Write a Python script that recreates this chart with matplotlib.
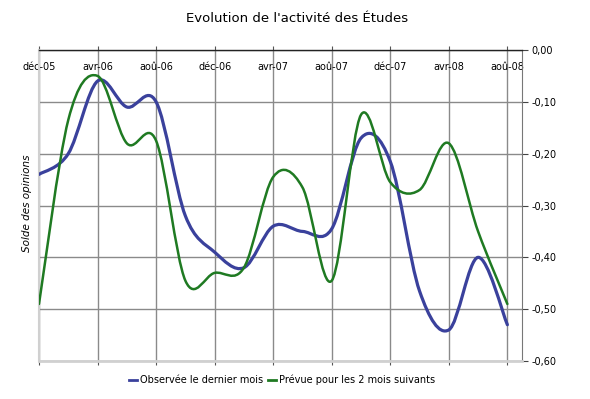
import matplotlib
matplotlib.use("Agg")
import matplotlib.pyplot as plt
from matplotlib.path import Path
from matplotlib.patches import PathPatch
from matplotlib.lines import Line2D
from matplotlib.ticker import FuncFormatter, MultipleLocator

# ── data (bi-monthly surveys, déc-05 .. aoû-08) ─────────────────────────
months = list(range(0, 33, 2))          # months since déc-05
observed = [-0.24, -0.20, -0.06, -0.11, -0.10, -0.32, -0.39, -0.42, -0.34,
            -0.35, -0.345, -0.17, -0.215, -0.465, -0.54, -0.40, -0.53]
forecast = [-0.49, -0.135, -0.05, -0.18, -0.175, -0.445, -0.43, -0.42, -0.245,
            -0.265, -0.445, -0.125, -0.255, -0.27, -0.18, -0.35, -0.49]
tick_months = list(range(0, 33, 4))
tick_labels = ["déc-05", "avr-06", "aoû-06", "déc-06", "avr-07",
               "aoû-07", "déc-07", "avr-08", "aoû-08"]

BLUE = "#3a419c"
GREEN = "#1f7a22"


def smooth_path(xs, ys):
    """Bezier path through the points, spreadsheet-style smoothing."""
    pts = list(zip(xs, ys))
    verts = [pts[0]]
    codes = [Path.MOVETO]
    n = len(pts)
    for i in range(n - 1):
        p0 = pts[i - 1] if i > 0 else pts[i]
        p1 = pts[i]
        p2 = pts[i + 1]
        p3 = pts[i + 2] if i + 2 < n else pts[i + 1]
        c1 = (p1[0] + (p2[0] - p0[0]) / 6, p1[1] + (p2[1] - p0[1]) / 6)
        c2 = (p2[0] - (p3[0] - p1[0]) / 6, p2[1] - (p3[1] - p1[1]) / 6)
        verts += [c1, c2, p2]
        codes += [Path.CURVE4] * 3
    return Path(verts, codes)


fig = plt.figure(figsize=(5.9, 3.99), dpi=100)
ax = fig.add_axes([39 / 590, 1 - 361 / 399, (522 - 39) / 590, (361 - 50) / 399])

for ys, col, lw in ((observed, BLUE, 2.3), (forecast, GREEN, 1.8)):
    ax.add_patch(PathPatch(smooth_path(months, ys), fill=False,
                           edgecolor=col, lw=lw, capstyle="round",
                           joinstyle="round", zorder=3))

ax.set_xlim(0, 33)
ax.set_ylim(-0.60, 0.0)

# x axis: labels on top, drawn just inside the frame
ax.set_xticks(tick_months)
ax.set_xticklabels(tick_labels)
ax.tick_params(axis="x", top=True, bottom=True, labeltop=True,
               labelbottom=False, direction="out", length=3,
               color="#555555", labelsize=7, pad=-19)

# y axis on the right
ax.yaxis.set_major_locator(MultipleLocator(0.1))
ax.yaxis.set_major_formatter(FuncFormatter(lambda v, _: f"{v:.2f}".replace(".", ",")
                                           if abs(v) > 1e-9 else "0,00"))
ax.yaxis.tick_right()
ax.tick_params(axis="y", direction="out", length=4, color="#444444",
               labelsize=7, pad=3)

ax.grid(True, color="#8a8a8a", lw=1.0, zorder=1)
ax.spines["top"].set_color("#222222")
ax.spines["top"].set_linewidth(1.0)
ax.spines["right"].set_color("#777777")
ax.spines["bottom"].set_color("#d0d0d0")
ax.spines["bottom"].set_linewidth(2.0)
ax.spines["left"].set_color("#d0d0d0")
ax.spines["left"].set_linewidth(1.5)

fig.text(27 / 590, 1 - 203 / 399, "Solde des opinions", rotation=90,
         style="italic", fontsize=7.5, ha="center", va="center")
fig.text(297 / 590, 1 - 18 / 399, "Evolution de l'activité des Études",
         fontsize=9.5, ha="center", va="center")

handles = [Line2D([], [], color=BLUE, lw=2.0),
           Line2D([], [], color=GREEN, lw=2.0)]
fig.legend(handles, ["Observée le dernier mois", "Prévue pour les 2 mois suivants"],
           loc="center", bbox_to_anchor=(282 / 590, 1 - 380 / 399), ncol=2,
           frameon=False, fontsize=7, handlelength=0.8, handletextpad=0.3,
           columnspacing=0.5)

fig.savefig("out.png", dpi=100)
